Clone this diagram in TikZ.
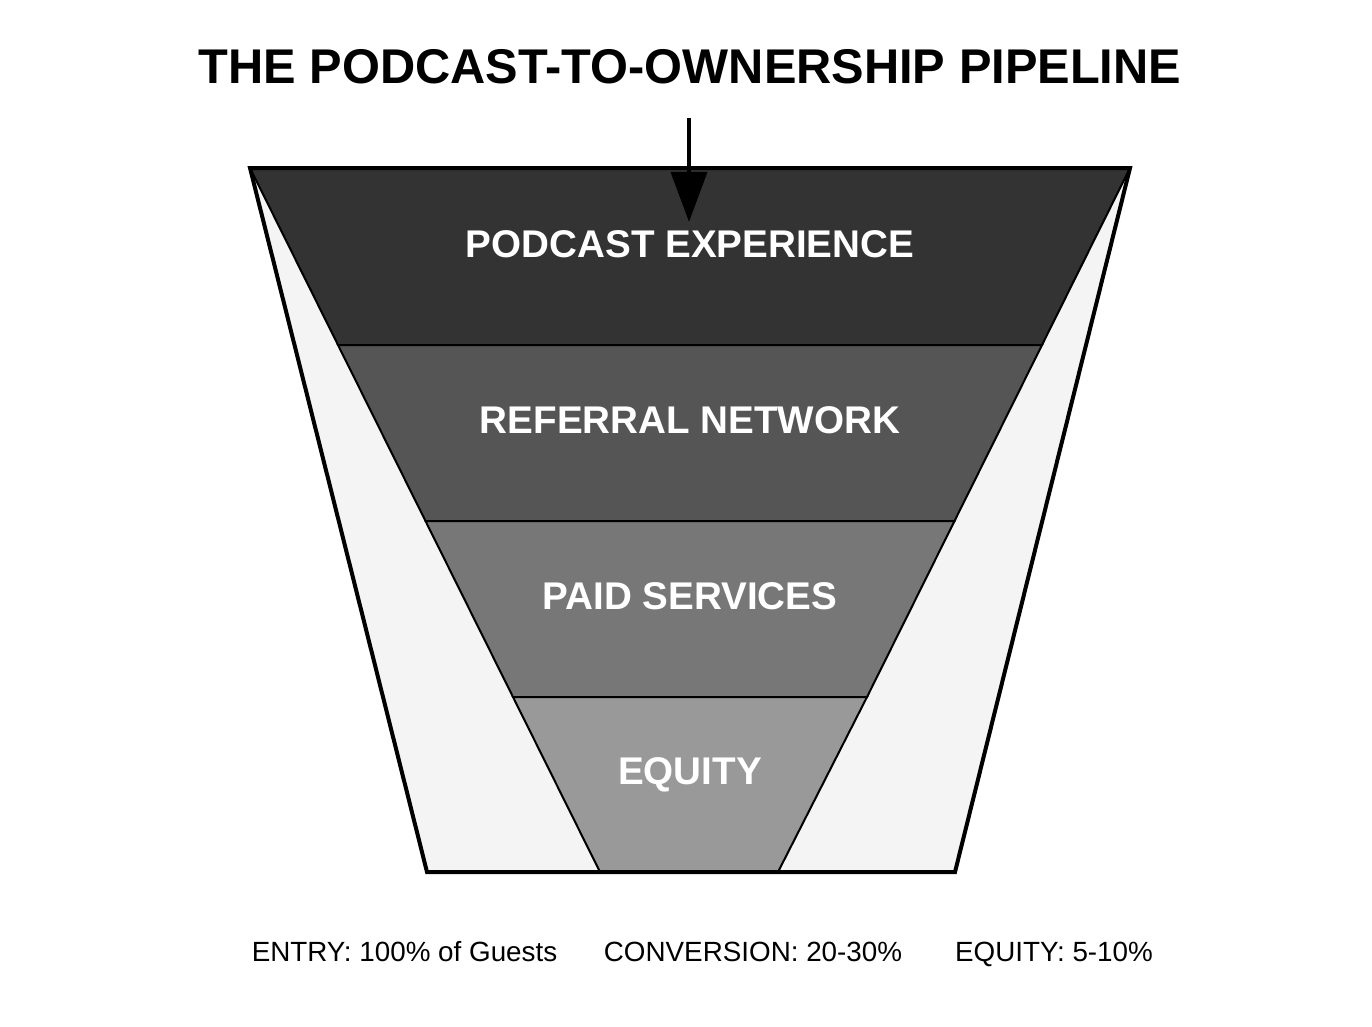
\documentclass[tikz,border=0pt]{standalone}
\usepackage{fontspec}
\setmainfont{Liberation Sans}
\usetikzlibrary{arrows.meta,positioning}
\definecolor{tierone}{HTML}{333333}
\definecolor{tiertwo}{HTML}{555555}
\definecolor{tierthree}{HTML}{777777}
\definecolor{tierfour}{HTML}{999999}
\definecolor{shell}{HTML}{F4F4F4}

\begin{document}
\begin{tikzpicture}[x=1pt,y=-1pt,
      band/.style={draw=black,line width=2pt},
      rim/.style={draw=black,line width=4pt},
      tier/.style={text=white,font=\fontsize{38.6}{46}\selectfont\bfseries,anchor=base,inner sep=0pt},
      stat/.style={font=\fontsize{27.8}{33}\selectfont,anchor=base,inner sep=0pt},
      flow/.style={-{Triangle[length=50pt,width=36pt]},line width=4pt}
    ]
    \useasboundingbox (0,0) rectangle (1372,1026);

    % outer shell of the funnel
    \fill[shell] (250,168) -- (1130,168) -- (955,872) -- (427,872) -- cycle;

    % the four tiers
    \filldraw[band,fill=tierone] (250,168) -- (1130,168) -- (1042,345) -- (338,345) -- cycle;
    \filldraw[band,fill=tiertwo] (338,345) -- (1042,345) -- (954.5,521) -- (425.5,521) -- cycle;
    \filldraw[band,fill=tierthree] (425.5,521) -- (954.5,521) -- (867,697) -- (513,697) -- cycle;
    \filldraw[band,fill=tierfour] (513,697) -- (867,697) -- (778,872) -- (600,872) -- cycle;

    \draw[rim] (250,168) -- (1130,168) -- (955,872) -- (427,872) -- cycle;

    \node[font=\fontsize{48.75}{58}\selectfont\bfseries,anchor=base,inner sep=0pt] (title) at (690,83) {THE PODCAST-TO-OWNERSHIP PIPELINE};

    \node[tier] (podcast) at (690,257) {PODCAST EXPERIENCE};
    \node[tier] (referral) at (690,433) {REFERRAL NETWORK};
    \node[tier] (paid) at (690,609) {PAID SERVICES};
    \node[tier] (equity) at (690,784) {EQUITY};

    \coordinate (drop) at (689,118);
    \draw[flow,shorten >=8pt] (drop) -- (drop |- podcast.north);

    \node[stat] (entry) at (404.5,961) {ENTRY: 100\% of Guests};
    \node[stat] (conversion) at (753,961) {CONVERSION: 20-30\%};
    \node[stat] (share) at (1054,961) {EQUITY: 5-10\%};
  \end{tikzpicture}
\end{document}
